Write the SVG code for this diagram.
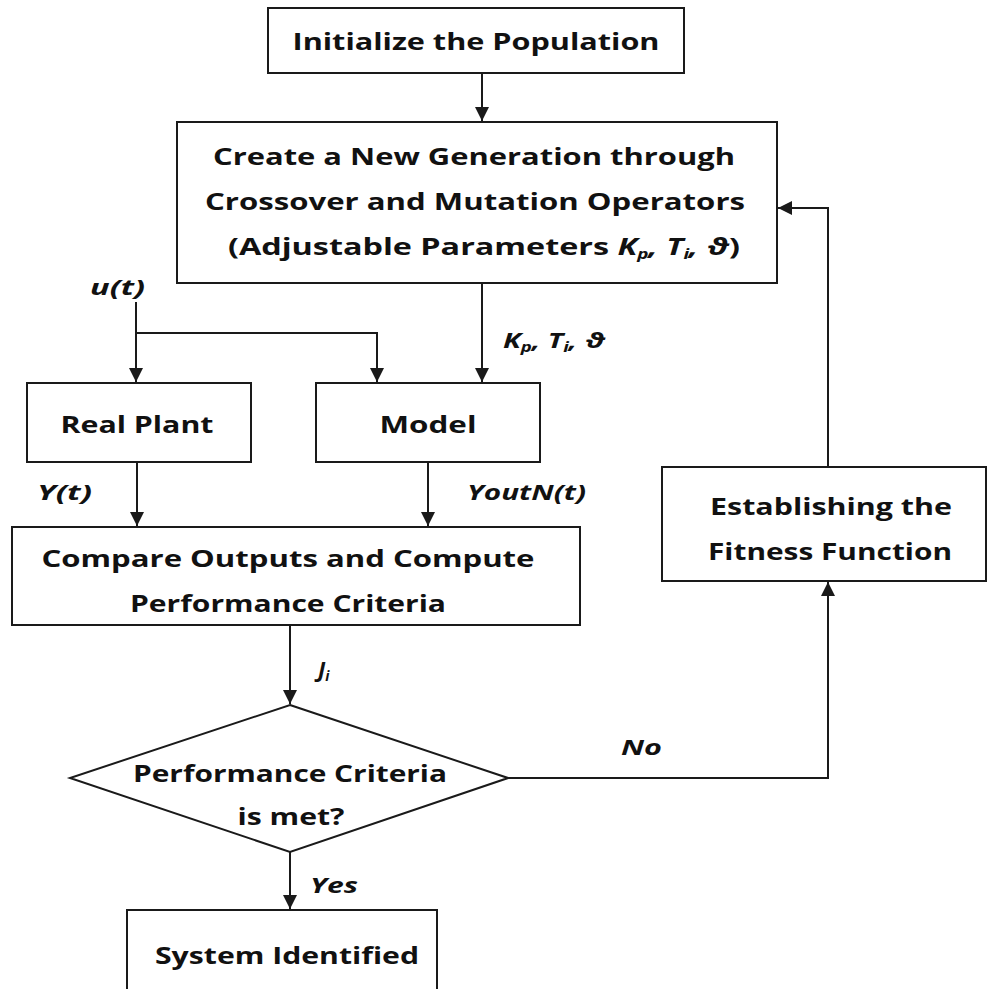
<svg xmlns="http://www.w3.org/2000/svg" width="988" height="989" viewBox="0 0 988 989">
  <style>
    .box { fill: #ffffff; stroke: #1a1a1a; stroke-width: 2; }
    .wire { fill: none; stroke: #1a1a1a; stroke-width: 2; }
    .t { font-family: "Open Sans", "Liberation Sans", sans-serif; font-weight: 700; font-size: 24px; fill: #111111; text-anchor: middle; }
    .n { font-family: "Open Sans", "Liberation Sans", sans-serif; font-weight: 700; font-size: 24px; fill: #111111; text-anchor: middle; }
    .lbl { font-family: "Open Sans", "Liberation Sans", sans-serif; font-weight: 700; font-style: italic; font-size: 22px; fill: #111111; }
    .sub { font-size: 14px; }
  </style>
  <defs>
    <marker id="arrow" viewBox="0 0 10 10" refX="10" refY="5" markerWidth="14" markerHeight="14" markerUnits="userSpaceOnUse" orient="auto">
      <path d="M0,0 L10,5 L0,10 z" fill="#1a1a1a"/>
    </marker>
  </defs>

  <rect width="988" height="989" fill="#ffffff"/>

  <!-- connectors -->
  <g id="connectors">
    <line class="wire" x1="482" y1="73" x2="482" y2="121" marker-end="url(#arrow)"/>
    <line class="wire" x1="482" y1="283" x2="482" y2="382" marker-end="url(#arrow)"/>
    <line class="wire" x1="136" y1="302" x2="136" y2="382" marker-end="url(#arrow)"/>
    <polyline class="wire" points="136,333 377,333 377,382" marker-end="url(#arrow)"/>
    <line class="wire" x1="137" y1="462" x2="137" y2="526" marker-end="url(#arrow)"/>
    <line class="wire" x1="428" y1="462" x2="428" y2="526" marker-end="url(#arrow)"/>
    <line class="wire" x1="290" y1="625" x2="290" y2="704" marker-end="url(#arrow)"/>
    <polyline class="wire" points="508,778 828,778 828,582" marker-end="url(#arrow)"/>
    <polyline class="wire" points="828,467 828,208 778,208" marker-end="url(#arrow)"/>
    <line class="wire" x1="290" y1="852" x2="290" y2="909" marker-end="url(#arrow)"/>

    <!-- connector labels -->
    <text class="lbl" x="90" y="295" textLength="55" lengthAdjust="spacingAndGlyphs">u(t)</text>
    <text class="lbl" x="503" y="348" textLength="102" lengthAdjust="spacingAndGlyphs">K<tspan class="sub" dy="4">p</tspan><tspan dy="-4">, T</tspan><tspan class="sub" dy="4">i</tspan><tspan dy="-4">, ϑ</tspan></text>
    <text class="lbl" x="37" y="500" textLength="55" lengthAdjust="spacingAndGlyphs">Y(t)</text>
    <text class="lbl" x="467" y="500" textLength="119" lengthAdjust="spacingAndGlyphs">YoutN(t)</text>
    <text class="lbl" x="318" y="677">J<tspan class="sub" dy="4">i</tspan></text>
    <text class="lbl" x="621" y="755" textLength="41" lengthAdjust="spacingAndGlyphs">No</text>
    <text class="lbl" x="310" y="893" textLength="48" lengthAdjust="spacingAndGlyphs">Yes</text>
  </g>

  <g id="init">
    <rect class="box" x="268" y="8" width="416" height="65"/>
    <text class="t" x="476" y="50" textLength="367" lengthAdjust="spacingAndGlyphs">Initialize the Population</text>
  </g>

  <g id="generation">
    <rect class="box" x="177" y="122" width="600" height="161"/>
    <text class="t" x="474" y="165" textLength="522" lengthAdjust="spacingAndGlyphs">Create a New Generation through</text>
    <text class="t" x="475" y="210" textLength="540" lengthAdjust="spacingAndGlyphs">Crossover and Mutation Operators</text>
    <text class="t" x="228" y="255" style="text-anchor:start" textLength="512" lengthAdjust="spacingAndGlyphs">(Adjustable Parameters <tspan font-style="italic">K</tspan><tspan font-style="italic" class="sub" dy="4">p</tspan><tspan font-style="italic" dy="-4">, T</tspan><tspan font-style="italic" class="sub" dy="4">i</tspan><tspan font-style="italic" dy="-4">, ϑ</tspan>)</text>
  </g>

  <g id="plant">
    <rect class="box" x="27" y="383" width="224" height="79"/>
    <text class="t" x="137" y="433" textLength="153" lengthAdjust="spacingAndGlyphs">Real Plant</text>
  </g>

  <g id="model">
    <rect class="box" x="316" y="383" width="224" height="79"/>
    <text class="t" x="428" y="433" textLength="97" lengthAdjust="spacingAndGlyphs">Model</text>
  </g>

  <g id="compare">
    <rect class="box" x="12" y="527" width="568" height="98"/>
    <text class="t" x="288" y="567" textLength="493" lengthAdjust="spacingAndGlyphs">Compare Outputs and Compute</text>
    <text class="t" x="288" y="612" textLength="316" lengthAdjust="spacingAndGlyphs">Performance Criteria</text>
  </g>

  <g id="decision">
    <polygon class="box" points="290,705 508,778 290,852 70,778"/>
    <text class="n" x="290" y="782" textLength="314" lengthAdjust="spacingAndGlyphs">Performance Criteria</text>
    <text class="n" x="291" y="825" textLength="107" lengthAdjust="spacingAndGlyphs">is met?</text>
  </g>

  <g id="fitness">
    <rect class="box" x="662" y="467" width="324" height="114"/>
    <text class="t" x="831" y="515" textLength="242" lengthAdjust="spacingAndGlyphs">Establishing the</text>
    <text class="t" x="830" y="560" textLength="244" lengthAdjust="spacingAndGlyphs">Fitness Function</text>
  </g>

  <g id="identified">
    <rect class="box" x="127" y="910" width="310" height="85"/>
    <text class="t" x="287" y="964" textLength="264" lengthAdjust="spacingAndGlyphs">System Identified</text>
  </g>
</svg>
